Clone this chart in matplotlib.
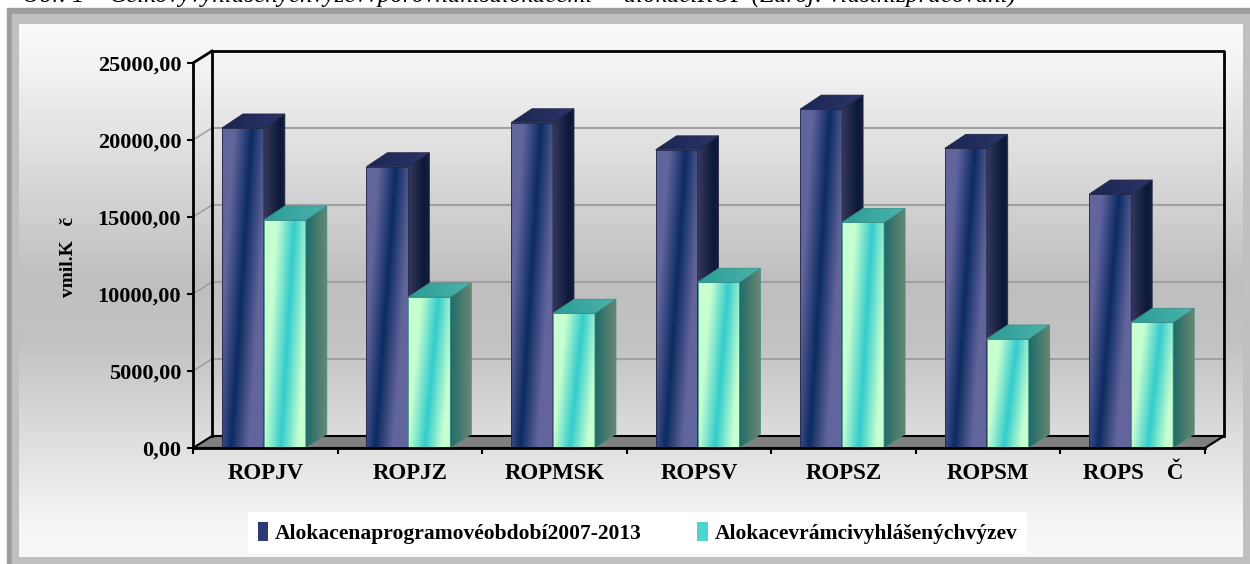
import numpy as np
import matplotlib
matplotlib.use("Agg")
import matplotlib.pyplot as plt
from matplotlib.patches import Polygon, Rectangle
from matplotlib.colors import to_rgb
from matplotlib.ticker import FuncFormatter, FixedLocator

plt.rcParams["font.family"] = ["Liberation Serif", "DejaVu Serif"]
plt.rcParams["font.weight"] = "bold"

categories = ["ROPJV", "ROPJZ", "ROPMSK", "ROPSV", "ROPSZ", "ROPSM", "ROPS    Č"]
alokace_obdobi = [20781, 18270, 21125, 19366, 22004, 19458, 16493]
alokace_vyzvy = [14800, 9800, 8750, 10760, 14650, 7080, 8160]
series_names = ["Alokacenaprogramovéobdobí2007-2013", "Alokacevrámcivyhlášenýchvýzev"]
y_label = "vmil.K   č"
caption = ("Obr. 1 – Celkovývyhlášenýchvýzevvporovnánísalokacemi     "
           "alokacíROP (Zdroj: vlastnízpracování)")

W, H = 1250, 564
fig = plt.figure(figsize=(W / 100, H / 100), dpi=100)

# background, frame and the caption that is cut by the top edge
bg = fig.add_axes([0, 0, 1, 1], zorder=0)
bg.axis("off")
bg.text(22, 2.5, caption, fontsize=18, style="italic", weight="normal",
        va="baseline", ha="left", zorder=1)
bg.add_patch(Rectangle((7, 8), W - 7, H - 8, color="#9c9c9c", zorder=2))
bg.add_patch(Rectangle((12, 14), W - 12, H - 14, color="#c0c0c0", zorder=3))
yy = np.arange(24, 557)
vals = np.interp(yy, [24, 70, 280, 340, 520, 557], [0.98, 0.95, 0.75, 0.76, 0.96, 0.97])
grad = np.repeat(vals[:, None], 2, axis=1)
bg.imshow(np.dstack([grad] * 3), extent=(19, 1243, 557, 24), aspect="auto",
          interpolation="bilinear", zorder=4)
bg.set_xlim(0, W)
bg.set_ylim(H, 0)

# front plane of the chart
x0, x1, yb, yt = 193, 1205, 448, 63
ax = fig.add_axes([x0 / W, (H - yb) / H, (x1 - x0) / W, (yb - yt) / H], zorder=1)
ax.patch.set_visible(False)
n = len(categories)
ymax = 25000
px_x = (x1 - x0) / n
px_y = (yb - yt) / ymax
WDX, WDY = 19 / px_x, 12 / px_y   # wall depth
BDX, BDY = 21 / px_x, 14 / px_y   # bar depth

# walls and floor
ax.add_patch(Polygon([(0, 0), (n, 0), (n + WDX, WDY), (WDX, WDY)], closed=True,
                     facecolor="#808080", edgecolor="black", lw=1.5, zorder=2, clip_on=False))
for v in range(5000, ymax, 5000):
    ax.plot([WDX, n + WDX], [v + WDY, v + WDY], color="#a0a0a0", lw=1.5, zorder=1, clip_on=False)
    ax.plot([0, WDX], [v, v + WDY], color="#a0a0a0", lw=1.2, zorder=1, clip_on=False)
ax.plot([WDX, WDX, n + WDX, n + WDX], [WDY, ymax + WDY, ymax + WDY, WDY],
        color="black", lw=2, zorder=3, clip_on=False)
ax.plot([0, WDX], [ymax, ymax + WDY], color="black", lw=2, zorder=3, clip_on=False)


def hexrgb(c):
    return np.array(to_rgb(c))


def add_face(verts, rgb, edge, z):
    verts = np.asarray(verts, dtype=float)
    poly = Polygon(verts, closed=True, transform=ax.transData, facecolor="none",
                   edgecolor=edge, lw=0.6, zorder=z, clip_on=False)
    ext = (verts[:, 0].min(), verts[:, 0].max(), verts[:, 1].min(), verts[:, 1].max())
    im = ax.imshow(rgb, extent=ext, origin="lower", aspect="auto",
                   interpolation="bilinear", zorder=z)
    im.set_clip_path(poly)
    ax.add_patch(poly)


def front_grad(band, edge, c0, c1, w):
    xf, yf = np.meshgrid(np.linspace(0, 1, 60), np.linspace(0, 1, 120))
    t = np.clip(np.abs(xf - (c0 + c1 * yf)) / w, 0, 1)[..., None]
    return hexrgb(band) * (1 - t) + hexrgb(edge) * t


def lin_grad(stops, colors):
    xf = np.linspace(0, 1, 60)
    cols = np.array([to_rgb(c) for c in colors])
    rgb = np.stack([np.interp(xf, stops, cols[:, k]) for k in range(3)], axis=-1)
    return np.repeat(rgb[None, :, :], 2, axis=0)


styles = [
    dict(front=front_grad("#0b2b62", "#62659b", 0.22, 0.5, 0.42),
         side=lin_grad([0, 0.75, 1], ["#36385a", "#0c193a", "#141c3a"]),
         top=lin_grad([0, 1], ["#1b2652", "#2c3567"]), edge="#23284a", left=0.2),
    dict(front=front_grad("#33cccc", "#c8ffd0", 0.4, 0.33, 0.42),
         side=lin_grad([0, 1], ["#1d6c69", "#6a8670"]),
         top=lin_grad([0, 1], ["#2a9c97", "#4cb3aa"]), edge="#3b8f8a", left=0.49),
]
bw = 0.29
for i in range(n):
    for s, values in enumerate([alokace_obdobi, alokace_vyzvy]):
        st = styles[s]
        h = values[i]
        l, r = i + st["left"], i + st["left"] + bw
        z = 10 + 2 * i + s
        add_face([(l, 0), (r, 0), (r, h), (l, h)], st["front"], st["edge"], z)
        add_face([(r, 0), (r + BDX, BDY), (r + BDX, h + BDY), (r, h)], st["side"], st["edge"], z)
        add_face([(l, h), (r, h), (r + BDX, h + BDY), (l + BDX, h + BDY)], st["top"], st["edge"], z)

ax.set_xlim(0, n)
ax.set_ylim(0, ymax)
for side in ["top", "right"]:
    ax.spines[side].set_visible(False)
for side in ["left", "bottom"]:
    ax.spines[side].set_linewidth(2)
    ax.spines[side].set_zorder(30)
ax.set_yticks(range(0, ymax + 1, 5000))
ax.yaxis.set_major_formatter(FuncFormatter(lambda v, p: f"{v:.2f}".replace(".", ",")))
ax.tick_params(axis="y", direction="out", length=4.5, width=1.5, pad=4, labelsize=16)
ax.xaxis.set_major_locator(FixedLocator(range(n + 1)))
ax.xaxis.set_minor_locator(FixedLocator([i + 0.5 for i in range(n)]))
ax.set_xticklabels([], minor=False)
ax.set_xticklabels(categories, minor=True)
ax.tick_params(axis="x", which="major", direction="out", length=4.5, width=1.5)
ax.tick_params(axis="x", which="minor", length=0, pad=11, labelsize=16.5)
ax.set_ylabel(y_label, fontsize=14, fontweight="bold")
ax.yaxis.set_label_coords(-0.1146, 0.497)

handles = [Rectangle((0, 0), 1, 1, facecolor="#2b3a72", edgecolor="none"),
           Rectangle((0, 0), 1, 1, facecolor="#4fd3cf", edgecolor="none")]
fig.legend(handles, series_names, loc="center", bbox_to_anchor=(0.51, 0.055), ncol=2,
           frameon=True, facecolor="white", edgecolor="none", fancybox=False, framealpha=1,
           prop=dict(size=15.5, weight="bold"), handlelength=0.5, handleheight=1.0,
           handletextpad=0.3, columnspacing=2.6, borderpad=0.45)

fig.savefig("out.png", dpi=100)
